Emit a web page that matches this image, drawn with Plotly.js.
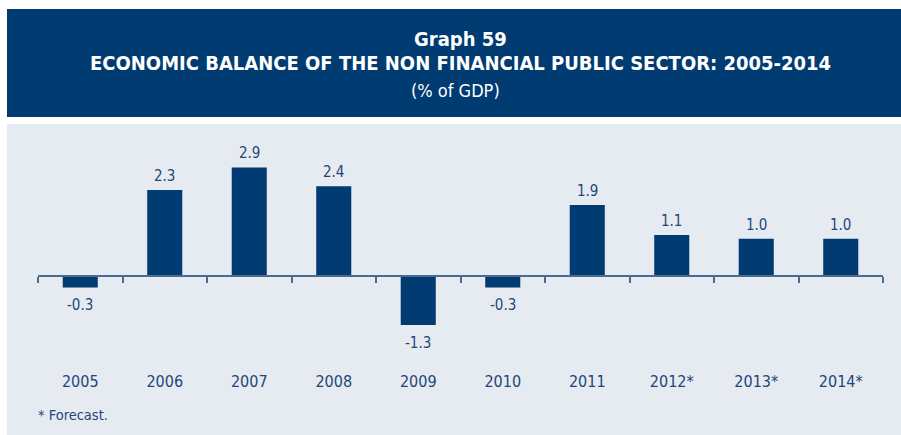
<!DOCTYPE html>
<html>
<head>
<meta charset="utf-8">
<script src="https://cdn.plot.ly/plotly-3.0.1.min.js"></script>
<style>
  html, body { margin: 0; padding: 0; background: #ffffff; }
  #chart { width: 901px; height: 435px; }
</style>
</head>
<body>
<div id="chart"></div>
<script>
// Economic balance of the non financial public sector, % of GDP
const years = ['2005', '2006', '2007', '2008', '2009', '2010', '2011', '2012*', '2013*', '2014*'];
const balance = [-0.3, 2.3, 2.9, 2.4, -1.3, -0.3, 1.9, 1.1, 1.0, 1.0];

const headingLine1 = 'Graph 59';
const headingLine2 = 'ECONOMIC BALANCE OF THE NON FINANCIAL PUBLIC SECTOR: 2005-2014';
const headingLine3 = '(% of GDP)';
const footnote = '* Forecast.';

// ---- layout constants ----
const W = 901, H = 435;
const M = { l: 38, r: 18, t: 140, b: 85 };
const yRange = [-1.97, 3.63];

const NAVY = '#003b71';
const PANEL = '#e6ebf2';
const INK = '#1f4677';
const AXIS_COLOR = '#4b6b92';
const FONT = "'DejaVu Sans Condensed', 'DejaVu Sans', sans-serif";

const plotW = W - M.l - M.r;
const plotH = H - M.t - M.b;
// pixel -> paper fraction helpers for the page furniture
const pxX = x => (x - M.l) / plotW;
const pxY = y => (H - M.b - y) / plotH;
// the category axis sits on the zero line
const zeroPos = (0 - yRange[0]) / (yRange[1] - yRange[0]);

const bars = {
  type: 'bar',
  x: years,
  y: balance,
  marker: { color: NAVY, line: { width: 0 } },
  hoverinfo: 'x+y',
  showlegend: false
};

// value labels above positive bars, below negative bars
// (category index is used as x so numeric-looking year names are not read as indices)
const valueLabels = balance.map((v, i) => ({
  xref: 'x', yref: 'y',
  x: i, y: v,
  text: v.toFixed(1),
  showarrow: false,
  yanchor: v >= 0 ? 'bottom' : 'top',
  yshift: v >= 0 ? 3 : -7,
  font: { family: FONT, size: 15, color: INK }
}));

const headingFont = { family: FONT, color: '#ffffff' };
const furniture = [
  { text: headingLine1, x: pxX(460), y: pxY(39), size: 20, weight: 700 },
  { text: headingLine2, x: pxX(460), y: pxY(63), size: 20, weight: 700 },
  { text: headingLine3, x: pxX(455), y: pxY(90), size: 18, weight: 400 }
].map(d => ({
  xref: 'paper', yref: 'paper', x: d.x, y: d.y,
  xanchor: 'center', yanchor: 'middle', showarrow: false,
  text: d.text,
  font: Object.assign({}, headingFont, { size: d.size, weight: d.weight })
}));

furniture.push({
  xref: 'paper', yref: 'paper', x: pxX(36), y: pxY(415),
  xanchor: 'left', yanchor: 'middle', showarrow: false,
  text: footnote,
  font: { family: FONT, size: 14.5, color: INK }
});

const layout = {
  width: W, height: H,
  margin: M,
  paper_bgcolor: '#ffffff',
  plot_bgcolor: 'rgba(0,0,0,0)',
  bargap: 0.585,
  showlegend: false,
  xaxis: {
    type: 'category',
    categoryorder: 'array',
    categoryarray: years,
    range: [-0.5, years.length - 0.5],
    anchor: 'free',
    position: zeroPos,
    showline: true, linecolor: AXIS_COLOR, linewidth: 2,
    ticks: 'outside', tickson: 'boundaries',
    ticklen: 6, tickwidth: 2, tickcolor: AXIS_COLOR,
    tickangle: 0,
    ticklabelstandoff: 91,
    tickfont: { family: FONT, size: 16, color: INK },
    showgrid: false, zeroline: false,
    fixedrange: true
  },
  yaxis: {
    range: yRange,
    visible: false,
    showgrid: false, zeroline: false,
    fixedrange: true
  },
  shapes: [
    { type: 'rect', xref: 'paper', yref: 'paper', layer: 'below',
      x0: pxX(7), x1: pxX(W + 4), y0: pxY(117), y1: pxY(9),
      fillcolor: NAVY, line: { width: 0 } },
    { type: 'rect', xref: 'paper', yref: 'paper', layer: 'below',
      x0: pxX(7), x1: pxX(W + 4), y0: pxY(H + 4), y1: pxY(124),
      fillcolor: PANEL, line: { width: 0 } }
  ],
  annotations: valueLabels.concat(furniture)
};

Plotly.newPlot('chart', [bars], layout, { displayModeBar: false, staticPlot: true });
</script>
</body>
</html>
